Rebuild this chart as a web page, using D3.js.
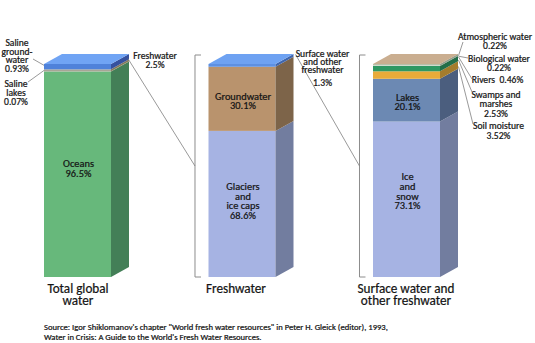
<!DOCTYPE html>
<html>
<head>
<meta charset="utf-8">
<script src="https://cdn.jsdelivr.net/npm/d3@7/dist/d3.min.js"></script>
<style>
  html, body { margin: 0; padding: 0; background: #fff; }
  svg { display: block; }
  text { font-family: Carlito, Lato, "Open Sans", sans-serif; fill: #141414; stroke: #141414; stroke-width: 0.22px; white-space: pre; }
</style>
</head>
<body>
<svg id="chart" width="535" height="343"></svg>
<script>
// ---- data ----
const groups = ["Total global water", "Freshwater", "Surface water and other freshwater"];
const groupLabels = [["Total global", "water"], ["Freshwater"], ["Surface water and", "other freshwater"]];

const globalNames  = ["Oceans", "Saline lakes", "Saline groundwater", "Freshwater"];
const globalValues = [96.5, 0.07, 0.93, 2.5];

const freshNames  = ["Glaciers and ice caps", "Groundwater", "Surface water and other freshwater"];
const freshValues = [68.6, 30.1, 1.3];

const surfaceNames  = ["Ice and snow", "Lakes", "Soil moisture", "Swamps and marshes", "Rivers", "Biological water", "Atmospheric water"];
const surfaceValues = [73.1, 20.1, 3.52, 2.53, 0.46, 0.22, 0.22];

const sourceLines = [
  "Source: Igor Shiklomanov's chapter \"World fresh water resources\" in Peter H. Gleick (editor), 1993,",
  "Water in Crisis: A Guide to the World's Fresh Water Resources."
];

// ---- colours: [front, side] ----
const palette = {
  "Oceans": ["#67b87b", "#437f57"],
  "Saline lakes": ["#b3aa8e", "#8a7d58"],
  "Saline groundwater": ["#a8a596", "#857a5c"],
  "Freshwater": ["#4f82da", "#36519e"],
  "Glaciers and ice caps": ["#a6b3e3", "#727d9f"],
  "Groundwater": ["#b9936d", "#7d6449"],
  "Surface water and other freshwater": ["#5d90e2", "#4066ad"],
  "Ice and snow": ["#a6b3e3", "#727d9f"],
  "Lakes": ["#6c89b3", "#4b5e7e"],
  "Soil moisture": ["#e8ab3a", "#a47c2c"],
  "Swamps and marshes": ["#2f9863", "#236e48"],
  "Rivers": ["#cfd8cc", "#9aa08a"],
  "Biological water": ["#4ea48a", "#387460"],
  "Atmospheric water": ["#c8aa8a", "#8d7960"]
};
const topColors = ["#70a4f4", "#6ea2f2", "#caae90"];

const svg = d3.select("#chart");
const depthX = 18, depthY = -10;

const x = d3.scaleBand().domain(groups).range([44, 440]).paddingInner(0.5927).paddingOuter(0);
const bw = x.bandwidth();

const stacks = [
  { names: globalNames, values: globalValues },
  { names: freshNames, values: freshValues },
  { names: surfaceNames, values: surfaceValues }
];

stacks.forEach((s, i) => {
  const total = d3.sum(s.values);
  s.y = d3.scaleLinear().domain([0, total]).range([277, 64]);
  let acc = 0;
  s.segs = s.values.map((v, j) => {
    const seg = { name: s.names[j], value: v, y0: acc, y1: acc + v };
    acc += v;
    return seg;
  });
  s.x0 = x(groups[i]);
  s.x1 = s.x0 + bw;
});

// ---- bars: front, side, top ----
stacks.forEach((s, i) => {
  const g = svg.append("g");
  const y = s.y;
  g.selectAll("rect.front").data(s.segs).join("rect")
    .attr("x", s.x0).attr("width", bw)
    .attr("y", d => y(d.y1)).attr("height", d => y(d.y0) - y(d.y1))
    .attr("fill", d => palette[d.name][0]);
  g.selectAll("path.side").data(s.segs).join("path")
    .attr("d", d => {
      const a = y(d.y0), b = y(d.y1);
      return `M${s.x1},${a}L${s.x1 + depthX},${a + depthY}L${s.x1 + depthX},${b + depthY}L${s.x1},${b}Z`;
    })
    .attr("fill", d => palette[d.name][1]);
  const top = y(d3.sum(s.values));
  g.append("path")
    .attr("d", `M${s.x0},${top}L${s.x0 + depthX},${top + depthY}L${s.x1 + depthX},${top + depthY}L${s.x1},${top}Z`)
    .attr("fill", topColors[i]);
});

// ---- helper for multi-line text ----
function multiText(parent, lines, cx, baseline, size, lineH) {
  const t = parent.append("text")
    .attr("text-anchor", "middle")
    .attr("font-size", size);
  lines.forEach((ln, k) => {
    t.append("tspan").attr("x", cx).attr("y", baseline + k * lineH).text(ln);
  });
  return t;
}
const pct = v => v + "%";

// ---- labels inside bars ----
const inside = [
  { bar: 0, seg: 0, lines: ["Oceans"], shift: -6 },
  { bar: 1, seg: 1, lines: ["Groundwater"], shift: 2 },
  { bar: 1, seg: 0, lines: ["Glaciers", "and", "ice caps"], shift: -3 },
  { bar: 2, seg: 1, lines: ["Lakes"], shift: 2 },
  { bar: 2, seg: 0, lines: ["Ice", "and", "snow"], shift: -8 }
];
inside.forEach(l => {
  const s = stacks[l.bar], d = s.segs[l.seg];
  const lines = l.lines.concat([pct(d.value)]);
  const lh = 9.6;
  const cy = (s.y(d.y0) + s.y(d.y1)) / 2 + l.shift;
  const first = cy - (lines.length - 1) * lh / 2 + 3.5;
  multiText(svg, lines, s.x0 + bw / 2 + 1, first, 10.4, lh);
});

// ---- brackets for the expanded bars ----
const bracketMid = [];
[1, 2].forEach(i => {
  const s = stacks[i];
  const bx = s.x0 - 13.5;
  const yt = s.y(d3.sum(s.values)) + depthY + 1, yb = s.y(0);
  svg.append("path")
    .attr("d", `M${bx + 6},${yt}H${bx}V${yb}H${bx + 6}`)
    .attr("fill", "none").attr("stroke", "#8c8c8c").attr("stroke-width", 1);
  bracketMid[i] = [bx, (yt + yb) / 2];
});

const lineColor = "#7f7f7f";
function leader(x1, y1, x2, y2) {
  svg.append("line").attr("x1", x1).attr("y1", y1).attr("x2", x2).attr("y2", y2)
    .attr("stroke", lineColor).attr("stroke-width", 0.8);
}

// connectors from the expanded segment to the next bar's bracket
{
  const s = stacks[0], d = s.segs[3];
  leader(s.x1 + depthX - 1, s.y((d.y0 + d.y1) / 2) + depthY + 2, bracketMid[1][0], bracketMid[1][1]);
  const s2 = stacks[1], d2 = s2.segs[2];
  leader(s2.x1 + depthX + 2, s2.y((d2.y0 + d2.y1) / 2) + depthY - 1, bracketMid[2][0], bracketMid[2][1]);
}

// ---- callout labels ----
const fs = 9.6, lh = 9.2;
// Total global water
{
  const s = stacks[0];
  const gw = s.segs[2], lk = s.segs[1];
  multiText(svg, ["Saline", "ground-", "water", pct(gw.value)], 17, 46, fs, 8.6);
  leader(33, 59, s.x0, s.y(gw.y1) - 4);
  multiText(svg, ["Saline", "lakes", pct(lk.value)], 16, 86.5, fs, 9.3);
  leader(28, 82, s.x0, s.y(lk.y0) - 1);
  const fw = s.segs[3];
  multiText(svg, ["Freshwater", pct(fw.value)], 155, 59, fs, 9.3);
}
// Freshwater
{
  const d = stacks[1].segs[2];
  multiText(svg, ["Surface water", "and other", "freshwater"], 322.5, 57, fs, 7.8);
  multiText(svg, [pct(d.value)], 322.5, 86, fs, lh);
}
// Surface water and other freshwater
{
  const s = stacks[2];
  const callouts = [
    { seg: 6, lines: ["Atmospheric water"], cx: 495, base: 40, end: [463, 42] },
    { seg: 5, lines: ["Biological water"], cx: 499, base: 61.5, end: [468, 58] },
    { seg: 4, lines: [], inline: "Rivers\u00a0\u00a0", cx: 497.5, base: 83.2, end: [472, 79] },
    { seg: 3, lines: ["Swamps and", "marshes"], cx: 496, base: 98.2, end: [472, 92] },
    { seg: 2, lines: ["Soil moisture"], cx: 498.5, base: 129.3, end: [473, 124] }
  ];
  callouts.forEach(c => {
    const d = s.segs[c.seg];
    const lines = c.inline ? [c.inline + pct(d.value)] : c.lines.concat([pct(d.value)]);
    multiText(svg, lines, c.cx, c.base, fs, lh);
    const sy = s.y((d.y0 + d.y1) / 2) + depthY + 1.5;
    leader(s.x1 + depthX + 0.5, sy, c.end[0], c.end[1]);
  });
}

// ---- category labels ----
stacks.forEach((s, i) => {
  const cx = [78, 236, 406][i];
  multiText(svg, groupLabels[i], cx, 292.5, 13.2, 12.3);
});

// ---- source note, fitted to its line width ----
{
  const t1 = svg.append("text").attr("x", 44).attr("y", 330).attr("font-size", 8).text(sourceLines[0]);
  const w = t1.node().getComputedTextLength();
  const size = 8 * 344 / w;
  t1.attr("font-size", size);
  svg.append("text").attr("x", 44).attr("y", 340).attr("font-size", size).text(sourceLines[1]);
}
</script>
</body>
</html>
